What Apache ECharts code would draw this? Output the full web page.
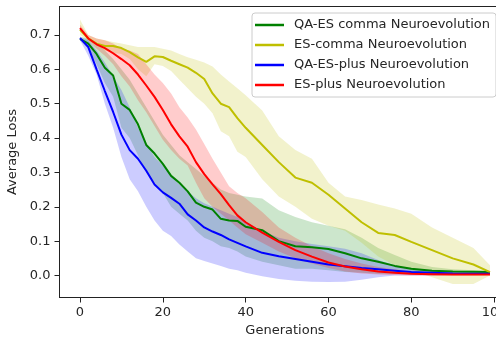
<!DOCTYPE html>
<html>
<head>
<meta charset="utf-8">
<script src="https://cdn.jsdelivr.net/npm/echarts@6/dist/echarts.min.js"></script>
<style>
  html, body { margin: 0; padding: 0; background: #fff; }
  #chart { width: 496px; height: 338px; }
</style>
</head>
<body>
<div id="chart"></div>
<script>
const gens = [0, 2, 4, 6, 8, 10, 12, 14, 16, 18, 20, 22, 24, 26, 28, 30, 32, 34, 36, 38, 40,
	44, 48, 52, 56, 60, 64, 68, 72, 76, 80, 85, 90, 95, 99];

const qaCommaMean = [0.689, 0.675, 0.645, 0.605, 0.582, 0.50, 0.482, 0.44, 0.38, 0.355, 0.325, 0.29, 0.27, 0.245, 0.212, 0.20, 0.192, 0.165, 0.16, 0.159, 0.142,
	0.132, 0.10, 0.085, 0.082, 0.077, 0.065, 0.05, 0.04, 0.028, 0.02, 0.014, 0.012, 0.011, 0.01];
const qaCommaUpper = [0.695, 0.69, 0.675, 0.655, 0.63, 0.60, 0.57, 0.53, 0.49, 0.45, 0.41, 0.38, 0.35, 0.33, 0.31, 0.29, 0.27, 0.25, 0.24, 0.235, 0.23,
	0.224, 0.19, 0.17, 0.155, 0.145, 0.135, 0.11, 0.08, 0.06, 0.04, 0.025, 0.018, 0.015, 0.013];
const qaCommaLower = [0.685, 0.66, 0.615, 0.56, 0.52, 0.43, 0.40, 0.35, 0.30, 0.27, 0.24, 0.20, 0.18, 0.16, 0.13, 0.11, 0.10, 0.085, 0.08, 0.07, 0.055,
	0.04, 0.03, 0.02, 0.02, 0.015, 0.01, 0.008, 0.005, 0.005, 0.005, 0.005, 0.006, 0.007, 0.007];

const esCommaMean = [0.715, 0.69, 0.675, 0.668, 0.668, 0.662, 0.65, 0.635, 0.622, 0.638, 0.636, 0.625, 0.615, 0.605, 0.59, 0.572, 0.53, 0.50, 0.49, 0.458, 0.43,
	0.38, 0.33, 0.285, 0.27, 0.235, 0.195, 0.155, 0.124, 0.118, 0.098, 0.074, 0.05, 0.032, 0.01];
const esCommaUpper = [0.745, 0.70, 0.69, 0.685, 0.68, 0.675, 0.67, 0.665, 0.665, 0.665, 0.66, 0.655, 0.645, 0.635, 0.628, 0.62, 0.608, 0.585, 0.565, 0.545, 0.525,
	0.48, 0.405, 0.365, 0.34, 0.27, 0.23, 0.22, 0.207, 0.195, 0.18, 0.14, 0.11, 0.08, 0.03];
const esCommaLower = [0.70, 0.685, 0.67, 0.655, 0.648, 0.645, 0.63, 0.60, 0.58, 0.615, 0.61, 0.595, 0.57, 0.545, 0.52, 0.50, 0.472, 0.42, 0.405, 0.36, 0.345,
	0.28, 0.23, 0.20, 0.165, 0.145, 0.13, 0.095, 0.055, 0.03, 0.015, -0.005, -0.025, -0.025, 0.0];

const qaPlusMean = [0.691, 0.665, 0.60, 0.537, 0.476, 0.41, 0.365, 0.34, 0.305, 0.265, 0.242, 0.226, 0.209, 0.178, 0.16, 0.14, 0.128, 0.118, 0.105, 0.095, 0.085,
	0.066, 0.056, 0.048, 0.04, 0.032, 0.027, 0.022, 0.018, 0.014, 0.01, 0.008, 0.006, 0.005, 0.005];
const qaPlusUpper = [0.695, 0.685, 0.655, 0.62, 0.58, 0.54, 0.49, 0.43, 0.385, 0.345, 0.32, 0.29, 0.265, 0.245, 0.225, 0.21, 0.20, 0.19, 0.18, 0.17, 0.155,
	0.13, 0.11, 0.10, 0.092, 0.085, 0.078, 0.065, 0.045, 0.03, 0.02, 0.015, 0.012, 0.01, 0.008];
const qaPlusLower = [0.685, 0.64, 0.585, 0.50, 0.43, 0.345, 0.28, 0.245, 0.20, 0.16, 0.13, 0.115, 0.09, 0.07, 0.05, 0.042, 0.035, 0.028, 0.02, 0.015, 0.008,
	-0.002, -0.01, -0.015, -0.018, -0.019, -0.018, -0.012, -0.005, 0.0, 0.0, 0.0, 0.002, 0.002, 0.003];

const esPlusMean = [0.72, 0.69, 0.673, 0.662, 0.647, 0.63, 0.612, 0.585, 0.553, 0.52, 0.482, 0.44, 0.405, 0.375, 0.33, 0.295, 0.265, 0.237, 0.205, 0.175, 0.155,
	0.125, 0.098, 0.074, 0.055, 0.038, 0.026, 0.018, 0.012, 0.008, 0.005, 0.004, 0.003, 0.003, 0.003];
const esPlusUpper = [0.73, 0.70, 0.69, 0.685, 0.675, 0.66, 0.655, 0.645, 0.615, 0.585, 0.56, 0.53, 0.49, 0.46, 0.425, 0.383, 0.34, 0.30, 0.26, 0.24, 0.225,
	0.185, 0.14, 0.11, 0.085, 0.065, 0.048, 0.035, 0.025, 0.018, 0.012, 0.008, 0.006, 0.005, 0.005];
const esPlusLower = [0.715, 0.685, 0.66, 0.64, 0.615, 0.58, 0.55, 0.51, 0.475, 0.435, 0.395, 0.365, 0.34, 0.32, 0.27, 0.225, 0.20, 0.18, 0.16, 0.14, 0.12,
	0.095, 0.07, 0.05, 0.035, 0.022, 0.012, 0.006, 0.003, 0.001, 0.0, 0.0, 0.0, 0.0, 0.001];

const xTicks = [0, 20, 40, 60, 80, 100];
const yTicks = [0, 0.1, 0.2, 0.3, 0.4, 0.5, 0.6, 0.7];

const runs = [
	{ name: "QA-ES comma Neuroevolution", color: "#008000", fill: "rgba(0,128,0,0.2)", mean: qaCommaMean, lo: qaCommaLower, hi: qaCommaUpper },
	{ name: "ES-comma Neuroevolution", color: "#bfbf00", fill: "rgba(191,191,0,0.2)", mean: esCommaMean, lo: esCommaLower, hi: esCommaUpper },
	{ name: "QA-ES-plus Neuroevolution", color: "#0000ff", fill: "rgba(0,0,255,0.2)", mean: qaPlusMean, lo: qaPlusLower, hi: qaPlusUpper },
	{ name: "ES-plus Neuroevolution", color: "#ff0000", fill: "rgba(255,0,0,0.2)", mean: esPlusMean, lo: esPlusLower, hi: esPlusUpper },
];

const font = "DejaVu Sans";

const series = [];
// shaded bands first, so every line sits on top of them
runs.forEach((r) => {
	series.push({
		type: "custom",
		coordinateSystem: "cartesian2d",
		data: gens.map((g, i) => [g, r.lo[i], r.hi[i]]),
		encode: { x: 0, y: [1, 2] },
		silent: true,
		z: 1,
		renderItem: (params, api) => {
			if (params.dataIndex !== 0) return;
			const top = gens.map((g, i) => api.coord([g, r.hi[i]]));
			const bottom = gens.map((g, i) => api.coord([g, r.lo[i]])).reverse();
			return {
				type: "polygon",
				shape: { points: top.concat(bottom) },
				style: { fill: r.fill },
			};
		},
	});
});
runs.forEach((r) => {
	series.push({
		name: r.name,
		type: "line",
		data: gens.map((g, i) => [g, r.mean[i]]),
		symbol: "none",
		color: r.color,
		lineStyle: { color: r.color, width: 2 },
		z: 2,
	});
});

var chart = echarts.init(document.getElementById("chart"), null, { renderer: "canvas" });
var option = {
	animation: false,
	backgroundColor: "#ffffff",
	textStyle: { fontFamily: font },
	grid: {
		left: 59.5,
		top: 6.5,
		width: 451,
		height: 291,
		show: true,
		borderColor: "#222",
		borderWidth: 1,
		outerBoundsMode: "none",
	},
	legend: {
		data: runs.map((r) => r.name),
		orient: "vertical",
		left: 252,
		top: 13,
		icon: "rect",
		itemWidth: 29,
		itemHeight: 2.5,
		itemGap: 6,
		padding: [5, 6, 5, 3],
		backgroundColor: "rgba(255,255,255,0.8)",
		borderColor: "#cccccc",
		borderWidth: 1,
		borderRadius: 3,
		textStyle: { fontFamily: font, fontSize: 13, lineHeight: 14, color: "#262626", padding: [0, 0, 0, 5] },
		z: 10,
	},
	xAxis: {
		type: "value",
		min: -4.95,
		max: 103.95,
		name: "Generations",
		nameLocation: "middle",
		nameGap: 27,
		nameTextStyle: { fontFamily: font, fontSize: 13, color: "#262626" },
		splitLine: { show: false },
		axisLine: { show: true, onZero: false, lineStyle: { color: "#222" } },
		axisTick: { show: true, length: 5, customValues: xTicks, lineStyle: { color: "#222" } },
		axisLabel: { customValues: xTicks, margin: 9, fontFamily: font, fontSize: 13, color: "#262626" },
	},
	yAxis: {
		type: "value",
		min: -0.064,
		max: 0.783,
		name: "Average Loss",
		nameLocation: "middle",
		nameGap: 40,
		nameTextStyle: { fontFamily: font, fontSize: 13, color: "#262626" },
		splitLine: { show: false },
		axisLine: { show: true, onZero: false, lineStyle: { color: "#222" } },
		axisTick: { show: true, length: 5, customValues: yTicks, lineStyle: { color: "#222" } },
		axisLabel: {
			customValues: yTicks,
			margin: 9,
			fontFamily: font,
			fontSize: 13,
			color: "#262626",
			formatter: (v) => v.toFixed(1),
		},
	},
	series: series,
};

option && chart.setOption(option);
</script>
</body>
</html>
